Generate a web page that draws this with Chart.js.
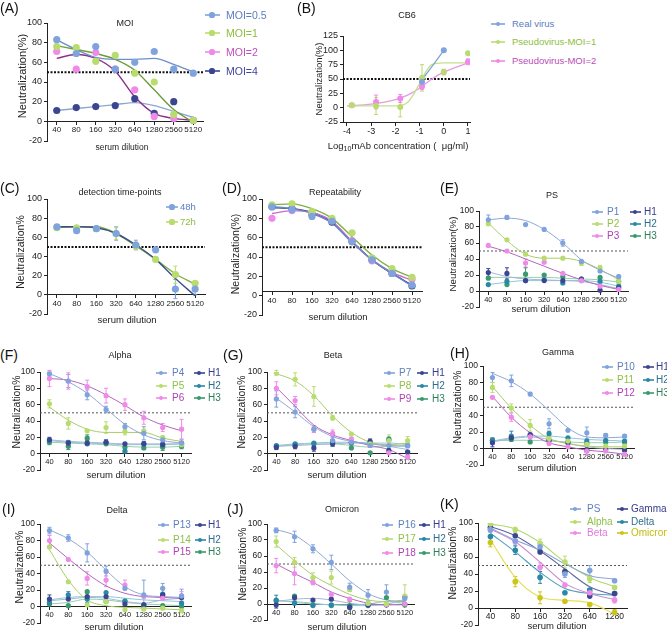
<!DOCTYPE html>
<html>
<head>
<meta charset="utf-8">
<script src="https://cdn.jsdelivr.net/npm/chart.js@4.4.1/dist/chart.umd.min.js"></script>
<style>
html, body { margin: 0; padding: 0; background: #fff; }
#fig { position: relative; width: 667px; height: 638px; overflow: hidden; font-family: 'Liberation Sans', Arial, sans-serif; color: #222; }
#fig canvas { position: absolute; }
.t { position: absolute; white-space: nowrap; line-height: 1; z-index: 2; }
.c { transform: translate(-50%, -50%); }
.v { transform: translate(-50%, -50%) rotate(-90deg); }
.l { transform: translateY(-50%); }
.mk { position: absolute; z-index: 2; }
sub { font-size: 75%; vertical-align: -0.25em; line-height: 0; }
</style>
</head>
<body>
<div id="fig"></div>
<script>
// ---- data ----
const dil8 = ['40', '80', '160', '320', '640', '1280', '2560', '5120'];
const dil6 = ['40', '80', '160', '320', '640', '1280'];

// (A) MOI
const moiNames = ['MOI=0.5', 'MOI=1', 'MOI=2', 'MOI=4'];
const moiPts = [[83, 69, 76, 53, 60, 71, 53, 49], [76, 75, 61, 67, 49, 40, 7, 1], [71, 53, 70, 53, 32, 5, 3, 1], [11, 14, 15, 16, 23, 8, 20, 1]];
const moiFit = [[83, 73, 65, 63, 63, 64, 58, 50], [77, 73, 69, 63, 52, 32, 12, -1], [64, 68, 64, 51, 25, 8, 3, 1], [11, 13, 15, 17, 19, 16, 10, 4]];

// (B) CB6
const cbX = [-3.8, -2.8, -1.8, -0.9, 0, 1];
const cbNames = ['Real virus', 'Pseudovirus-MOI=1', 'Pseudovirus-MOI=2'];
const cbPts = [[null, null, null, 45, 100, null], [4, 3, 1, 52, 62, 95], [4, 10, 16, 37, 62, 80]];
const cbErr = [[0, 0, 0, 3, 0, 0], [0, 15, 17, 23, 5, 0], [0, 12, 7, 5, 0, 5]];
const cbFitX = [-4, -3, -2, -1.5, -1, -0.75, -0.5, 0, 1];
const cbFit = [[null, null, null, null, 44, 57, 71, 100, null], [3, 3, 3, 9, 42, 62, 75, 78, 78], [3, 6, 14, 22, 34, 42, 50, 62, 78]];

// (C) detection time-points
const timeNames = ['48h', '72h'];
const timePts = [[71, 67, 69, 64, 52, 47, 6, 6], [70, 70, 69, 64, 51, 37, 21, 12]];
const timeErr = [[0, 0, 0, 7, 5, 0, 10, 6], [0, 0, 0, 6, 4, 0, 9, 2]];
const timeFit = [[71, 71, 70, 64, 52, 37, 17, -1], [70, 71, 71, 64, 51, 37, 22, 11]];

// (D) Repeatability
const repPts = [[92, 89, 82, 77, 56, 37, 23, 11], [94, 95, 87, 80, 65, 39, 28, 19], [80, 88, 85, 78, 57, 36, 23, 17], [92, 90, 84, 76, 56, 37, 23, 10]];
const repFit = [[92, 90, 85, 75, 55, 37, 23, 10], [94, 95, 90, 80, 61, 42, 28, 19], [85, 88, 86, 77, 56, 37, 24, 16], [91, 90, 86, 76, 56, 37, 23, 11]];

// (E) PS
const psNames = ['P1', 'P2', 'P3', 'H1', 'H2', 'H3'];
const psPts = [[89, 92, 83, 77, 60, 37, 25, 18], [84, 64, 46, 41, 41, 35, 29, 12], [57, 50, 35, 36, 22, 13, 6, 2], [23, 22, 13, 13, 13, 15, 1, 4], [8, 12, 13, 14, 10, 13, 12, 6], [16, 8, 21, 20, 18, 15, 17, 12]];
const psErr = [[6, 2, 0, 0, 4, 0, 0, 2], [2, 0, 0, 0, 0, 3, 3, 0], [0, 0, 5, 0, 0, 0, 0, 0], [5, 7, 0, 0, 0, 0, 0, 0], [0, 0, 0, 0, 0, 0, 0, 0], [0, 0, 8, 0, 0, 0, 0, 0]];
const psFit = [[89, 91, 88, 77, 60, 39, 26, 16], [85, 63, 46, 41, 41, 37, 27, 14], [56, 49, 40, 31, 22, 14, 7, 2], [24, 18, 15, 14, 13, 12, 8, 3], [8, 11, 13, 13, 13, 13, 11, 6], [17, 17, 17, 17, 16, 15, 14, 11]];

// (F) Alpha
const alphaNames = ['P4', 'P5', 'P6', 'H1', 'H2', 'H3'];
const alphaPts = [[98, 89, 72, 54, 33, 25, 17, 13], [61, 37, 28, 32, 27, 28, 20, 11], [92, 89, 82, 71, 60, 44, 32, 30], [17, 13, 13, 14, 12, 12, 11, 12], [16, 14, 12, 14, 3, 12, 11, 12], [14, 9, 19, 12, 8, 7, 8, 9]];
const alphaErr = [[3, 8, 6, 4, 4, 8, 4, 4], [5, 7, 0, 7, 4, 0, 0, 4], [10, 10, 8, 9, 7, 8, 5, 12], [3, 3, 3, 3, 0, 3, 3, 3], [0, 0, 0, 0, 0, 0, 0, 0], [3, 4, 4, 0, 0, 0, 4, 3]];
const alphaFit = [[98, 88, 74, 55, 36, 23, 16, 13], [57, 41, 30, 26, 26, 26, 19, 15], [92, 90, 83, 72, 59, 45, 35, 28], [17, 15, 14, 13, 12, 12, 12, 12], [16, 14, 13, 12, 11, 11, 11, 12], [14, 13, 12, 11, 9, 8, 8, 9]];

// (G) Beta
const betaNames = ['P7', 'P8', 'P9', 'H1', 'H2', 'H3'];
const betaPts = [[67, 51, 30, 16, 14, 10, 10, 10], [99, 91, 70, 44, 24, 12, 16, 16], [80, 65, 30, 25, 18, 10, 1, -4], [8, 9, 7, 12, 14, 15, 4, 2], [10, 12, 13, 15, 13, 12, 17, 10], [9, 11, 12, 13, 7, 1, 18, 2]];
const betaErr = [[10, 7, 4, 4, 0, 0, 4, 3], [3, 8, 12, 3, 0, 0, 7, 5], [8, 5, 4, 4, 0, 0, 0, 3], [3, 3, 4, 3, 0, 3, 0, 0], [0, 0, 0, 0, 0, 0, 0, 0], [0, 0, 0, 4, 0, 0, 0, 0]];
const betaFit = [[68, 51, 33, 21, 15, 12, 10, 9], [98, 89, 71, 46, 26, 14, 11, 13], [81, 58, 35, 23, 16, 10, 5, -6], [9, 10, 11, 12, 13, 12, 9, 5], [10, 12, 13, 14, 14, 13, 13, 11], [9, 11, 12, 12, 10, 8, 9, 10]];

// (H) Gamma
const gammaNames = ['P10', 'P11', 'P12', 'H1', 'H2', 'H3'];
const gammaPts = [[86, 82, 66, 30, 22, 19, 16, 15], [74, 49, 28, 12, 9, 5, 3, 3], [62, 38, 14, 6, 2, -3, -3, -7], [7, 13, 17, 10, 7, -2, -1, -2], [10, 15, 16, 18, 13, 9, 10, 9], [10, 11, 8, 10, 8, 6, 8, 8]];
const gammaErr = [[6, 7, 2, 6, 0, 7, 2, 2], [6, 5, 7, 0, 0, 0, 0, 0], [0, 5, 5, 0, 0, 5, 0, 0], [5, 0, 0, 0, 0, 3, 0, 0], [3, 6, 0, 3, 0, 0, 0, 0], [0, 0, 0, 0, 0, 0, 0, 0]];
const gammaFit = [[91, 81, 66, 46, 25, 14, 13, 14], [75, 49, 28, 12, 6, 3, 2, 2], [63, 38, 19, 7, 2, -2, -4, -7], [8, 12, 14, 11, 6, 2, 0, -1], [9, 13, 15, 15, 13, 11, 10, 9], [9, 10, 10, 9, 8, 7, 7, 8]];

// (I) Delta
const deltaNames = ['P13', 'P14', 'P15', 'H1', 'H2', 'H3'];
const deltaPts = [[92, 83, 65, 43, 22, 14, 22, 13], [72, 30, 2, 6, -4, -3, -2, -5], [80, 57, 34, 32, 26, 12, 10, 13], [9, 9, 12, 12, 3, 2, 14, 11], [5, 14, 9, 17, 6, 2, 15, 4], [3, 1, 18, 6, 7, 0, 1, 0]];
const deltaErr = [[4, 4, 11, 6, 0, 18, 6, 8], [0, 0, 0, 0, 0, 0, 0, 0], [6, 0, 8, 8, 6, 0, 0, 5], [5, 0, 0, 0, 0, 0, 0, 0], [0, 4, 4, 0, 0, 0, 0, 0], [0, 0, 0, 0, 0, 0, 0, 0]];
const deltaFit = [[93, 82, 66, 44, 24, 14, 12, 11], [69, 32, 8, 1, -1, -2, -3, -4], [77, 58, 40, 25, 16, 12, 11, 10], [7, 9, 11, 10, 6, 4, 8, 10], [8, 11, 12, 12, 10, 8, 7, 6], [3, 5, 9, 8, 5, 3, 2, 1]];

// (J) Omicron
const omiNames = ['P16', 'P17', 'P18', 'H1', 'H2', 'H3'];
const omiPts = [[92, 84, 69, 52, 21, 11, 15, 7], [78, 52, 33, 33, 18, 1, 0, 10], [48, 38, 27, 12, 6, 1, -1, 0], [-1, 8, 5, 6, -4, -1, -1, 9], [5, 1, -2, -1, -4, -2, -1, 0], [4, 10, -1, -2, -2, 0, 8, -1]];
const omiErr = [[3, 7, 5, 9, 5, 7, 9, 0], [7, 6, 6, 8, 0, 0, 0, 14], [9, 14, 3, 0, 0, 0, 0, 0], [4, 3, 0, 0, 0, 0, 0, 0], [6, 0, 0, 0, 0, 0, 0, 0], [0, 0, 0, 0, 5, 0, 0, 0]];
const omiFit = [[93, 86, 70, 50, 29, 13, 5, 3], [74, 54, 36, 23, 12, 5, 3, 5], [50, 38, 27, 15, 7, 1, -1, -1], [3, 6, 7, 5, 1, -1, 0, 5], [5, 2, 0, -1, -2, -2, -1, 0], [4, 3, 1, -1, -1, 0, 3, 1]];

// (K) variants
const varNames = ['PS', 'Alpha', 'Beta', 'Gamma', 'Delta', 'Omicron'];
const varPts = [[92, 79, 72, 40, 44, 32], [99, 92, 76, 54, 34, 24], [92, 78, 48, 27, 18, 9], [95, 85, 66, 43, 14, 17], [84, 68, 36, 18, 21, 17], [77, 31, 12, 8, 4, -5]];
const varErr = [[3, 5, 3, 4, 6, 2], [0, 3, 5, 7, 4, 2], [0, 0, 5, 0, 0, 3], [0, 0, 0, 0, 0, 0], [0, 5, 7, 0, 0, 0], [5, 6, 7, 0, 0, 3]];
const varFit = [[94, 80, 68, 52, 38, 34], [99, 93, 77, 54, 36, 25], [93, 78, 54, 29, 17, 10], [96, 85, 67, 46, 25, 15], [88, 66, 42, 23, 17, 15], [80, 36, 13, 9, 6, -7]];

// ---- colours ----
const BLUE = '#7fa3dc', GREEN = '#b9dc6f', PINK = '#f08ae9', NAVY = '#3b4590', TEAL = '#2a87a6', SEA = '#3a9a6d', YEL = '#cbc51b';
const ptCol = [BLUE, GREEN, PINK, NAVY, TEAL, SEA];
const fitCol = ['#90a7d3', '#a8cc68', '#b266bd', '#a9b4d8', '#8ec6da', '#95cfae'];
const txtCol = ['#5d7fbf', '#90c048', '#b03fb3', '#363c8c', '#2c6e8e', '#2e7d5b'];

Chart.defaults.font.family = "'Liberation Sans', Arial, sans-serif";
Chart.defaults.color = '#222';

const fig = document.getElementById('fig');

// dotted 50% line
Chart.register({
    id: 'half',
    beforeDatasetsDraw(chart, args, o) {
        if (!o.on) return;
        const { ctx, chartArea, scales } = chart;
        const py = scales.y.getPixelForValue(50);
        ctx.save();
        ctx.setLineDash(o.dash);
        ctx.lineWidth = o.w;
        ctx.strokeStyle = o.color;
        ctx.beginPath();
        ctx.moveTo(chartArea.left, py);
        ctx.lineTo(chartArea.right + (o.ext || 0), py);
        ctx.stroke();
        ctx.restore();
    }
});

// error bars from dataset.err
Chart.register({
    id: 'errbars',
    beforeDatasetsDraw(chart) {
        const { ctx, scales } = chart;
        chart.data.datasets.forEach((ds, i) => {
            if (!ds.err) return;
            const meta = chart.getDatasetMeta(i);
            ctx.save();
            ctx.strokeStyle = ds.borderColor;
            ctx.lineWidth = 1;
            meta.data.forEach((pt, j) => {
                const e = ds.err[j];
                const raw = ds.data[j];
                const v = raw !== null && typeof raw === 'object' ? raw.y : raw;
                if (!e || v === null) return;
                const y1 = scales.y.getPixelForValue(v + e), y2 = scales.y.getPixelForValue(v - e);
                ctx.beginPath();
                ctx.moveTo(pt.x, y1); ctx.lineTo(pt.x, y2);
                ctx.moveTo(pt.x - 2, y1); ctx.lineTo(pt.x + 2, y1);
                ctx.moveTo(pt.x - 2, y2); ctx.lineTo(pt.x + 2, y2);
                ctx.stroke();
            });
            ctx.restore();
        });
    }
});

function pts(data, color, r, err) {
    return { data, showLine: false, pointRadius: r, pointBackgroundColor: color, pointBorderWidth: 0, borderColor: color, err, order: 0 };
}
function fit(data, color, w) {
    return { data, pointRadius: 0, borderColor: color, borderWidth: w || 1.1, cubicInterpolationMode: 'monotone', fill: false, order: 1 };
}

function txt(s, x, y, size, cls, color) {
    const d = document.createElement('div');
    d.className = 't ' + cls;
    d.innerHTML = s;
    d.style.left = x + 'px';
    d.style.top = y + 'px';
    d.style.fontSize = size + 'px';
    if (color) d.style.color = color;
    fig.appendChild(d);
}

function mark(x, y, color, lw, r) {
    const line = document.createElement('div');
    line.className = 'mk';
    Object.assign(line.style, { left: (x - lw / 2) + 'px', top: (y - 0.6) + 'px', width: lw + 'px', height: '1.2px', background: color, opacity: 0.8 });
    fig.appendChild(line);
    const dot = document.createElement('div');
    dot.className = 'mk';
    Object.assign(dot.style, { left: (x - r) + 'px', top: (y - r) + 'px', width: 2 * r + 'px', height: 2 * r + 'px', borderRadius: '50%', background: color });
    fig.appendChild(dot);
}

function legend(names, dotCols, textCols, dotX, textX, ys, size, lw, r) {
    names.forEach((n, i) => {
        mark(dotX, ys[i], dotCols[i], lw, r);
        txt(n, textX, ys[i], size, 'l', textCols[i]);
    });
}

// g = [yAxisX, topPx, bottomPx, rightPx]
function panel(g, labels, datasets, o) {
    const yw = 30, padT = 8, padR = 10, padB = o.padB || 8;
    const cv = document.createElement('canvas');
    cv.width = g[3] - g[0] + yw + padR;
    cv.height = g[2] - g[1] + padT + padB;
    cv.style.left = (g[0] - yw) + 'px';
    cv.style.top = (g[1] - padT) + 'px';
    fig.appendChild(cv);
    const fs = o.fs || 8.5, fsx = o.fsx || fs;
    const axisCol = '#222';
    const x = o.linear ? {
        type: 'linear', min: o.xmin, max: o.xmax, position: { y: o.ymin },
        afterBuildTicks: s => { s.ticks = o.xticks.map(v => ({ value: v })); },
        grid: { drawOnChartArea: false, color: axisCol, tickLength: 3 },
        border: { color: axisCol },
        ticks: { font: { size: fsx }, color: axisCol, padding: 1, maxRotation: 0 }
    } : {
        type: 'category', offset: true, position: { y: o.axisAt || 0 },
        grid: { drawOnChartArea: false, offset: false, color: axisCol, tickLength: 3 },
        border: { color: axisCol },
        ticks: { font: { size: fsx }, color: axisCol, padding: 1, maxRotation: 0, autoSkip: false }
    };
    new Chart(cv, {
        type: 'line',
        data: { labels, datasets },
        options: {
            responsive: false, animation: false, events: [],
            layout: { padding: { left: 0, top: padT, right: padR, bottom: padB } },
            plugins: { legend: { display: false }, tooltip: { enabled: false }, half: o.half },
            scales: {
                x,
                y: {
                    min: o.ymin, max: o.ymax,
                    ticks: { stepSize: o.step, font: { size: fs }, color: axisCol, padding: 2 },
                    grid: { drawOnChartArea: false, color: axisCol, tickLength: 3 },
                    border: { color: axisCol },
                    afterFit: s => { s.width = yw; }
                }
            }
        }
    });
}

const thick = { on: true, dash: [2, 1.5], w: 2, color: '#111' };
const thin = { on: true, dash: [2, 2], w: 1, color: '#555' };

// ---- (A) ----
const aFitCol = ['#6f8fc7', '#6c9c3b', '#8b2f8c', '#8fa6d2'];
panel([47, 23, 141, 203], dil8,
    moiFit.map((f, i) => fit(f, aFitCol[i], 1.4)).concat(moiPts.map((p, i) => pts(p, ptCol[i], 3.6))),
    { ymin: -20, ymax: 100, step: 20, fs: 9, fsx: 8, half: thick });
legend(moiNames, ptCol.slice(0, 4), ['#5b7dc0', '#8dbe3c', '#c04dc0', '#3f44a0'], 212, 226, [15, 33, 52, 71], 10.5, 15, 2.6);

// ---- (B) ----
const bFitCol = ['#7fa3dc', '#c6e08c', '#e69be2'];
panel([343, 36, 122, 470], undefined,
    cbFit.map((f, i) => fit(cbFitX.map((xv, j) => ({ x: xv, y: f[j] })), bFitCol[i], 1.3))
        .concat(cbPts.map((p, i) => pts(cbX.map((xv, j) => ({ x: xv, y: p[j] })), ptCol[i], 3, cbErr[i]))),
    { linear: true, xmin: -4.165, xmax: 1.083, xticks: [-4, -3, -2, -1, 0, 1], ymin: -25, ymax: 125, step: 25, fs: 9, padB: 18, half: thick });
legend(cbNames, ptCol.slice(0, 3), ['#5b7dc0', '#8dbe3c', '#b84db8'], 498, 512, [24, 42, 61], 9.5, 14, 2.2);

// ---- (C) ----
panel([47, 199, 314, 205], dil8,
    timeFit.map((f, i) => fit(f, ['#3c4e8c', '#7eae46'][i], 1.4)).concat(timePts.map((p, i) => pts(p, ptCol[i], 3.6, timeErr[i]))),
    { ymin: -20, ymax: 100, step: 20, fs: 9, fsx: 8, half: thick });
legend(timeNames, ptCol.slice(0, 2), ['#5b7dc0', '#8dbe3c'], 172, 180, [207, 222], 9.5, 12, 2.6);

// ---- (D) ----
const dCol = [BLUE, GREEN, PINK, NAVY];
panel([262, 199, 315, 422], dil8,
    repFit.map((f, i) => fit(f, ['#6787c7', '#7faf45', '#c070c8', '#2d2f7a'][i], 1.4)).concat(repPts.map((p, i) => pts(p, dCol[i], 3.6))),
    { ymin: -20, ymax: 100, step: 20, fs: 9, fsx: 8, half: thick, axisAt: 4 });

// ---- (E)-(J) ----
function group(g, names, P, E, F, leg) {
    panel(g, dil8,
        F.map((f, i) => fit(f, fitCol[i], 1)).concat(P.map((p, i) => pts(p, ptCol[i], 2.6, E[i]))),
        { ymin: -20, ymax: 100, step: 20, fs: 8.5, fsx: 7.5, half: thin });
    legend(names.slice(0, 3), ptCol.slice(0, 3), txtCol.slice(0, 3), leg[0], leg[1], leg[4], 10, 11, 2.2);
    legend(names.slice(3), ptCol.slice(3), txtCol.slice(3), leg[2], leg[3], leg[4], 10, 11, 2.2);
}
group([479, 211, 307, 628], psNames, psPts, psErr, psFit, [597, 607, 635, 644, [212, 224, 236]]);
group([40, 372, 470, 191], alphaNames, alphaPts, alphaErr, alphaFit, [161, 172, 199, 208, [373, 386, 398]]);
group([267, 372, 470, 417], betaNames, betaPts, betaErr, betaFit, [389, 399, 422, 432, [373, 386, 399]]);
group([483, 366, 465, 634], gammaNames, gammaPts, gammaErr, gammaFit, [607, 617, 648, 656, [367, 380, 393]]);
group([40, 524, 623, 191], deltaNames, deltaPts, deltaErr, deltaFit, [163, 173, 200, 208, [525, 540, 552]]);
group([267, 524, 620, 414], omiNames, omiPts, omiErr, omiFit, [387, 398, 424, 433, [525, 539, 553]]);

// ---- (K) ----
const kCol = [BLUE, GREEN, PINK, NAVY, TEAL, YEL];
const kFit = ['#90a7d3', '#b3d670', '#c98ad0', '#5c66a8', '#4d9fbd', '#e6de55'];
const kTxt = ['#5d7fbf', '#90c048', '#e07ad8', '#363c8c', '#2c6e8e', '#c2bc10'];
panel([478, 523, 625, 627], dil6,
    varFit.map((f, i) => fit(f, kFit[i], 1.1)).concat(varPts.map((p, i) => pts(p, kCol[i], 2.8, varErr[i]))),
    { ymin: -20, ymax: 100, step: 20, fs: 8.5, half: thin });
legend(varNames.slice(0, 3), kCol.slice(0, 3), kTxt.slice(0, 3), 575, 587, [509, 522, 533], 10, 11, 2.2);
legend(varNames.slice(3), kCol.slice(3), kTxt.slice(3), 622, 631, [509, 522, 533], 10, 11, 2.2);

// ---- panel letters, titles, axis titles ----
[['(A)', 0, 1], ['(B)', 297, 1], ['(C)', 0, 181], ['(D)', 222, 181], ['(E)', 440, 181],
 ['(F)', 0, 348], ['(G)', 223, 348], ['(H)', 450, 346], ['(I)', 2, 502], ['(J)', 227, 502], ['(K)', 440, 497]]
    .forEach(a => txt(a[0], a[1], a[2], 14, '', '#111'));

[['MOI', 125, 23], ['CB6', 407, 15], ['detection time-points', 120, 192], ['Repeatability', 335, 192], ['PS', 552, 195],
 ['Alpha', 120, 355], ['Beta', 333, 355], ['Gamma', 558, 352], ['Delta', 117, 510], ['Omicron', 342, 509]]
    .forEach(a => txt(a[0], a[1], a[2], 9, 'c'));

[['Neutralization(%)', 22, 76, 11], ['Neutralization(%)', 319, 79, 9.5], ['Neutralization%', 20, 252, 10.5],
 ['Neutralization(%)', 235, 254, 10.5], ['Neutralization(%)', 453, 254, 9.8], ['Neutralization%', 17, 412, 10.4],
 ['Neutralization%', 242, 412, 10.4], ['Neutralization%', 458, 407, 10.4], ['Neutralization%', 20, 567, 10.4],
 ['Neutralization%', 243, 564, 10.4], ['Neutralization%', 453, 563, 10.4]]
    .forEach(a => txt(a[0], a[1], a[2], a[3], 'v'));

[['serum dilution', 122, 147, 8.5], ['Log<sub>10</sub>mAb concentration ( &nbsp;μg/ml)', 398, 146, 9.5], ['serum dilution', 127, 320, 9.5],
 ['serum dilution', 338, 317, 9.5], ['serum dilution', 541, 309, 9.5], ['serum dilution', 116, 475, 9.5],
 ['serum dilution', 337, 475, 9.5], ['serum dilution', 547, 468, 9.5], ['serum dilution', 114, 627, 9.5],
 ['serum dilution', 337, 627, 9.5], ['serum dilution', 557, 626, 9.5]]
    .forEach(a => txt(a[0], a[1], a[2], a[3], 'c'));
</script>
</body>
</html>
